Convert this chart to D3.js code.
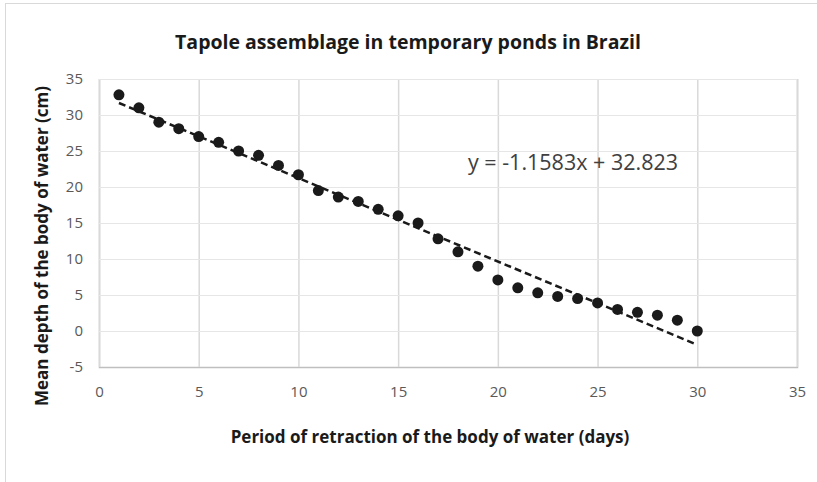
<!DOCTYPE html>
<html>
<head>
<meta charset="utf-8">
<script src="https://cdn.jsdelivr.net/npm/d3@7"></script>
<style>
  body { margin: 0; background: #fff; }
  text { font-family: "Open Sans", "Liberation Sans", sans-serif; }
</style>
</head>
<body>
<svg id="chart"></svg>
<script>
// days of retraction and mean depth (cm)
const days = [1, 2, 3, 4, 5, 6, 7, 8, 9, 10, 11, 12, 13, 14, 15, 16, 17, 18, 19, 20, 21, 22, 23, 24, 25, 26, 27, 28, 29, 30];
const depth = [32.8, 31.0, 29.0, 28.1, 27.0, 26.2, 25.0, 24.4, 23.0, 21.7, 19.5, 18.6, 18.0, 16.9, 16.0, 15.0, 12.8, 11.0, 9.0, 7.1, 6.0, 5.3, 4.8, 4.5, 3.9, 3.0, 2.6, 2.2, 1.5, 0.0];
// linear trendline as reported on the chart
const trendSlope = -1.1583;
const trendIntercept = 32.823;
const xTicks = [0, 5, 10, 15, 20, 25, 30, 35];
const yTicks = [-5, 0, 5, 10, 15, 20, 25, 30, 35];

const W = 817, H = 482;
const margin = {top: 79, right: 20, bottom: 115, left: 99};
const width = 797 - margin.left;
const height = 367 - margin.top;

const svg = d3.select('#chart').attr('width', W).attr('height', H);

// chart area border
svg.append('rect')
    .attr('x', 5.5).attr('y', 3.5)
    .attr('width', W - 5).attr('height', H)
    .attr('fill', '#fff').attr('stroke', '#d9d9d9');

const chart = svg.append('g')
    .attr('transform', `translate(${margin.left},${margin.top})`);

const xScale = d3.scaleLinear().domain([0, 35]).range([0, width]);
const yScale = d3.scaleLinear().domain([-5, 35]).range([height, 0]);

// gridlines (plain hyphen for negatives, like the original)
const xAxis = d3.axisBottom(xScale)
    .tickValues(xTicks)
    .tickSize(-height)
    .tickPadding(19)
    .tickFormat(d => String(d));
const yAxis = d3.axisLeft(yScale)
    .tickValues(yTicks)
    .tickSize(-width)
    .tickPadding(16)
    .tickFormat(d => String(d));

chart.append('g')
    .attr('class', 'axis x-axis')
    .attr('transform', `translate(0,${height})`)
    .call(xAxis)
    .call(g => g.select('.domain').attr('stroke', '#bfbfbf').attr('stroke-width', 1.5))
    .call(g => g.selectAll('.tick line').attr('stroke', '#d9d9d9').attr('stroke-width', 1.5))
    .call(g => g.selectAll('.tick text').attr('fill', '#595959').style('font-size', '15px'));

chart.append('g')
    .attr('class', 'axis y-axis')
    .call(yAxis)
    .call(g => g.select('.domain').remove())
    .call(g => g.selectAll('.tick line').attr('stroke', d => d === -5 ? '#bfbfbf' : '#e6e6e6').attr('stroke-width', 1.2))
    .call(g => g.selectAll('.tick text').attr('fill', '#595959').style('font-size', '15px'));

// trendline
const trendX = [d3.min(days), d3.max(days)];
chart.append('line')
    .attr('x1', xScale(trendX[0]))
    .attr('y1', yScale(trendSlope * trendX[0] + trendIntercept))
    .attr('x2', xScale(trendX[1]))
    .attr('y2', yScale(trendSlope * trendX[1] + trendIntercept))
    .attr('stroke', '#1a1a1a')
    .attr('stroke-width', 2.5)
    .attr('stroke-dasharray', '7,4');

// points
chart.selectAll('.point')
    .data(days)
  .join('circle')
    .attr('class', 'point')
    .attr('cx', d => xScale(d))
    .attr('cy', (d, i) => yScale(depth[i]))
    .attr('r', 5.5)
    .attr('fill', '#1a1a1a');

// equation label
chart.append('text')
    .attr('x', xScale(18.5))
    .attr('y', yScale(22.4))
    .attr('fill', '#404040')
    .style('font-size', '21.5px')
    .text(`y = ${trendSlope}x + ${trendIntercept}`);

// title
svg.append('text')
    .attr('x', 408)
    .attr('y', 49)
    .attr('text-anchor', 'middle')
    .attr('fill', '#1a1a1a')
    .style('font-size', '19.5px')
    .style('font-weight', 'bold')
    .text('Tapole assemblage in temporary ponds in Brazil');

// axis titles
svg.append('text')
    .attr('x', 430)
    .attr('y', 443)
    .attr('text-anchor', 'middle')
    .attr('fill', '#1a1a1a')
    .style('font-size', '17px')
    .style('font-weight', 'bold')
    .text('Period of retraction of the body of water (days)');

svg.append('text')
    .attr('transform', `translate(48,${margin.top + height / 2 + 23}) rotate(-90)`)
    .attr('text-anchor', 'middle')
    .attr('fill', '#1a1a1a')
    .style('font-size', '17px')
    .style('font-weight', 'bold')
    .text('Mean depth of the body of water (cm)');
</script>
</body>
</html>
